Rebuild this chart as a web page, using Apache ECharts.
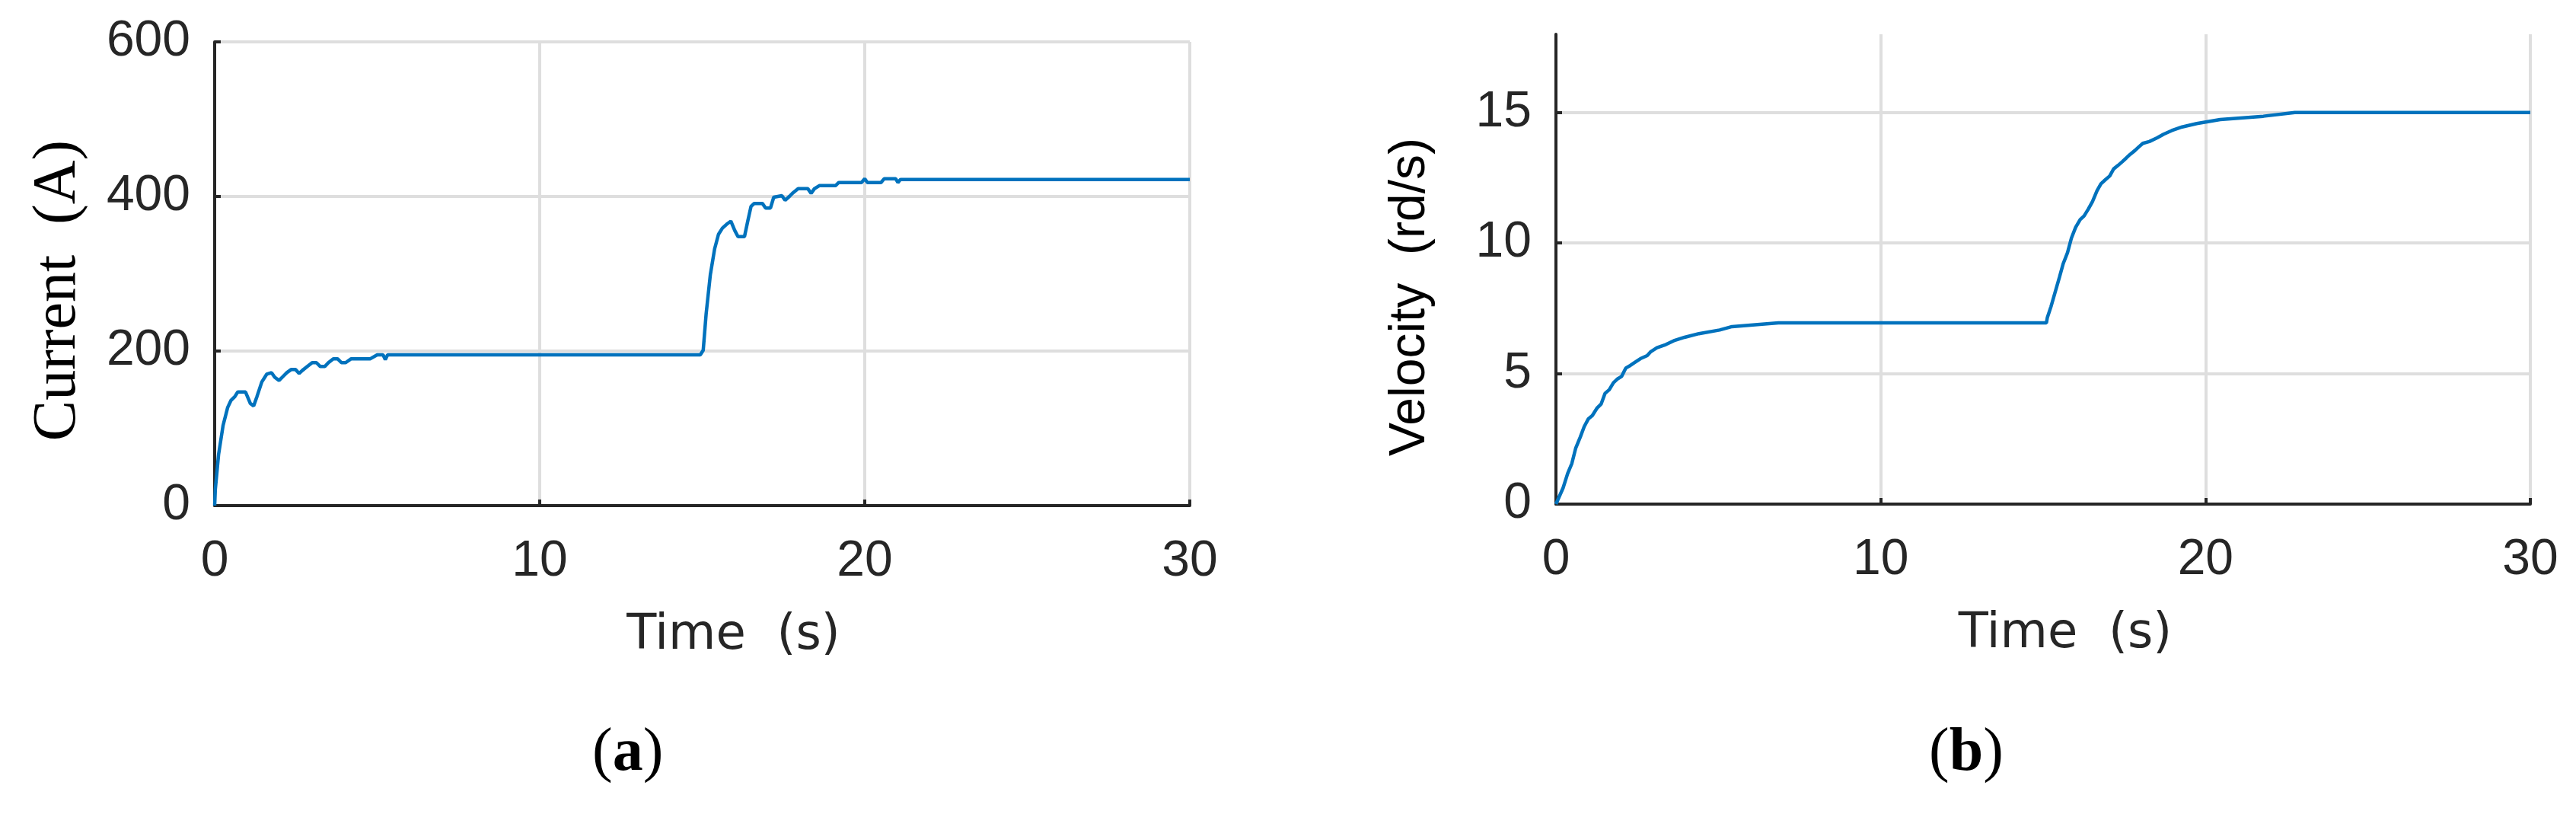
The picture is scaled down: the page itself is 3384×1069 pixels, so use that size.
<!DOCTYPE html>
<html>
<head>
<meta charset="utf-8">
<script src="https://cdn.jsdelivr.net/npm/echarts@6/dist/echarts.min.js"></script>
<style>
  html, body { margin: 0; padding: 0; background: #ffffff; }
  #chart { width: 3384px; height: 1069px; }
</style>
</head>
<body>
<div id="chart"></div>
<script>
// time axis shared by both panels
const timeTicks = [0, 10, 20, 30];
const currentTicks = [0, 200, 400, 600];
const velocityTicks = [0, 5, 10, 15];
const velocityMax = 18;

// (a) motor current, A
const timeA = [0, 0.02, 0.12, 0.26, 0.4, 0.5, 0.62, 0.71, 0.95, 1.1, 1.2, 1.3, 1.45, 1.6, 1.75, 1.85, 1.98, 2.1, 2.22, 2.35, 2.49, 2.6, 2.7, 2.85, 3.0, 3.13, 3.25, 3.39, 3.5, 3.65, 3.78, 3.9, 4.03, 4.2, 4.79, 5.0, 5.18, 5.25, 5.32, 14.94, 15.03, 15.12, 15.25, 15.38, 15.5, 15.62, 15.75, 15.88, 16.0, 16.1, 16.3, 16.4, 16.5, 16.6, 16.85, 16.95, 17.1, 17.2, 17.45, 17.55, 17.68, 17.8, 17.95, 18.25, 18.35, 18.45, 18.6, 19.1, 19.2, 19.9, 20.0, 20.08, 20.5, 20.6, 20.95, 21.02, 21.1, 30];
const currentA = [0, 21, 66, 104, 127, 136, 141, 147, 147, 132, 129, 141, 160, 170, 172, 166, 162, 167, 172, 176, 176, 171, 175, 180, 185, 185, 180, 180, 185, 190, 190, 185, 185, 190, 190, 195, 195, 189, 195, 195, 201, 248, 299, 332, 351, 359, 364, 368, 356, 348, 348, 368, 387, 391, 391, 385, 385, 399, 401, 395, 400, 405, 410, 410, 404, 410, 414, 414, 418, 418, 423, 418, 418, 423, 423, 418, 422, 422];

// (b) angular velocity, rd/s
const timeB = [0, 0.22, 0.36, 0.49, 0.61, 0.75, 0.87, 1.0, 1.12, 1.26, 1.39, 1.51, 1.64, 1.77, 1.9, 2.02, 2.15, 2.29, 2.42, 2.6, 2.81, 2.92, 3.11, 3.38, 3.63, 3.96, 4.4, 5.04, 5.42, 6.85, 15.1, 15.13, 15.24, 15.37, 15.5, 15.62, 15.75, 15.87, 16.0, 16.14, 16.26, 16.39, 16.52, 16.66, 16.78, 16.91, 17.05, 17.17, 17.31, 17.43, 17.56, 17.68, 17.82, 17.94, 18.07, 18.27, 18.51, 18.71, 18.96, 19.28, 19.73, 20.45, 21.78, 22.75, 30];
const velocityB = [0, 0.62, 1.17, 1.56, 2.15, 2.57, 2.97, 3.27, 3.39, 3.67, 3.83, 4.24, 4.38, 4.65, 4.8, 4.89, 5.21, 5.31, 5.42, 5.57, 5.69, 5.84, 5.99, 6.11, 6.26, 6.39, 6.53, 6.67, 6.8, 6.94, 6.94, 7.15, 7.56, 8.12, 8.68, 9.22, 9.63, 10.19, 10.6, 10.9, 11.04, 11.3, 11.59, 12.01, 12.27, 12.42, 12.57, 12.84, 12.98, 13.11, 13.26, 13.4, 13.54, 13.68, 13.82, 13.89, 14.03, 14.17, 14.31, 14.45, 14.58, 14.73, 14.86, 15.0, 15.0];

const ink = '#262626';
const gridGray = '#dedede';
const lineBlue = '#0072BD';

function pairs(xs, ys) {
  return xs.map((x, i) => [x, ys[i]]);
}

function timeAxis(gridIndex, shift) {
  return {
    type: 'value',
    gridIndex: gridIndex,
    min: timeTicks[0],
    max: timeTicks[timeTicks.length - 1],
    interval: timeTicks[1] - timeTicks[0],
    name: 'Time  (s)',
    nameLocation: 'middle',
    nameGap: 139,
    nameTextStyle: { fontFamily: 'DejaVu Sans', fontSize: 64, color: ink, padding: [0, 0, 0, shift] },
    axisLine: { show: true, onZero: false, lineStyle: { color: ink, width: 4 } },
    axisTick: { show: true, inside: true, length: 8, lineStyle: { color: ink, width: 4 } },
    axisLabel: { fontFamily: 'Liberation Sans', fontSize: 66, color: ink, margin: 41 },
    splitLine: { show: true, lineStyle: { color: gridGray, width: 4 } }
  };
}

function valueAxis(gridIndex, ticks, max, name, nameFont, nameSize, nameGap, shift) {
  return {
    type: 'value',
    gridIndex: gridIndex,
    min: ticks[0],
    max: max,
    interval: ticks[1] - ticks[0],
    name: name,
    nameLocation: 'middle',
    nameRotate: 90,
    nameGap: nameGap,
    nameTextStyle: { fontFamily: nameFont, fontSize: nameSize, color: '#000', padding: [0, shift, 0, 0] },
    axisLine: { show: true, onZero: false, lineStyle: { color: ink, width: 4 } },
    axisTick: { show: true, inside: true, length: 8, lineStyle: { color: ink, width: 4 } },
    axisLabel: {
      fontFamily: 'Liberation Sans', fontSize: 66, color: ink, margin: 32,
      padding: [12, 0, 0, 0],
      showMaxLabel: max === ticks[ticks.length - 1]
    },
    splitLine: { show: true, showMaxLine: max === ticks[ticks.length - 1], lineStyle: { color: gridGray, width: 4 } }
  };
}

const chart = echarts.init(document.getElementById('chart'), null, { renderer: 'canvas' });

chart.setOption({
  animation: false,
  backgroundColor: '#ffffff',
  grid: [
    { left: 282, top: 55, width: 1281, height: 609, outerBoundsMode: 'none' },
    { left: 2044, top: 45, width: 1280, height: 617, outerBoundsMode: 'none' }
  ],
  xAxis: [
    timeAxis(0, 82),
    timeAxis(1, 58)
  ],
  yAxis: [
    valueAxis(0, currentTicks, currentTicks[currentTicks.length - 1], 'Current  (A)', 'Liberation Serif', 80, 165, 44),
    valueAxis(1, velocityTicks, velocityMax, 'Velocity  (rd/s)', 'Liberation Sans', 66, 158, 73)
  ],
  series: [
    {
      type: 'line', xAxisIndex: 0, yAxisIndex: 0,
      data: pairs(timeA, currentA),
      showSymbol: false,
      lineStyle: { color: lineBlue, width: 4.5 }
    },
    {
      type: 'line', xAxisIndex: 1, yAxisIndex: 1,
      data: pairs(timeB, velocityB),
      showSymbol: false,
      lineStyle: { color: lineBlue, width: 4.5 }
    }
  ],
  graphic: [
    {
      type: 'text', left: 778, top: 950,
      style: {
        text: '({b|a})', fontFamily: 'Liberation Serif', fontSize: 80, fill: '#000',
        rich: { b: { fontFamily: 'Liberation Serif', fontSize: 80, fontWeight: 'bold', fill: '#000' } }
      }
    },
    {
      type: 'text', left: 2534, top: 950,
      style: {
        text: '({b|b})', fontFamily: 'Liberation Serif', fontSize: 80, fill: '#000',
        rich: { b: { fontFamily: 'Liberation Serif', fontSize: 80, fontWeight: 'bold', fill: '#000' } }
      }
    }
  ]
});
</script>
</body>
</html>
